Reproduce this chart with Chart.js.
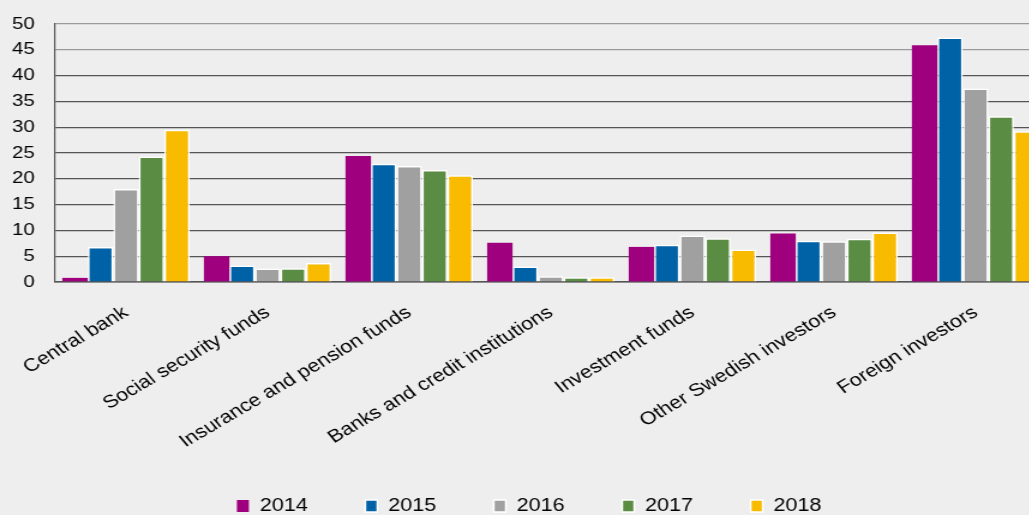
<!DOCTYPE html>
<html>
<head>
<meta charset="utf-8">
<script src="https://cdn.jsdelivr.net/npm/chart.js@4"></script>
<style>
  html, body { margin: 0; padding: 0; background: #eeeeee; overflow: hidden; }
  /* the reference is stretched sideways, so draw narrow and widen with CSS */
  #wrap { width: 872px; height: 525px; transform: scaleX(1.2); transform-origin: 0 0; }
</style>
</head>
<body>
<div id="wrap"><canvas id="chart"></canvas></div>
<script>
// ── Data ───────────────────────────────────────────
const categories = [
  'Central bank',
  'Social security funds',
  'Insurance and pension funds',
  'Banks and credit institutions',
  'Investment funds',
  'Other Swedish investors',
  'Foreign investors',
];
const years = ['2014', '2015', '2016', '2017', '2018'];
const v2014 = [0.8, 5.0, 24.4, 7.6, 6.8, 9.4, 45.9];
const v2015 = [6.8, 3.2, 22.9, 3.0, 7.2, 8.0, 47.4];
const v2016 = [18.0, 2.6, 22.5, 1.1, 9.0, 7.9, 37.5];
const v2017 = [24.3, 2.65, 21.7, 0.9, 8.5, 8.4, 32.1];
const v2018 = [29.5, 3.7, 20.7, 0.9, 6.3, 9.6, 29.2];
const yTicks = [0, 5, 10, 15, 20, 25, 30, 35, 40, 45, 50];

// ── Styling ────────────────────────────────────────
const colors = ['#9e007e', '#0062a6', '#a0a0a0', '#5a8c43', '#f9bb00'];
const seriesValues = [v2014, v2015, v2016, v2017, v2018];
const FONT = "'Liberation Sans', Arial, Helvetica, sans-serif";

const datasets = years.map((year, i) => ({
  label: year,
  data: seriesValues[i],
  backgroundColor: colors[i],
  borderColor: i === 0 ? colors[0] : '#ffffff',
  borderWidth: i === 0 ? 0 : 1.5,
  categoryPercentage: 0.9,
  barPercentage: 1.0,
}));

new Chart(document.getElementById('chart'), {
  type: 'bar',
  data: { labels: categories, datasets },
  options: {
    responsive: true,
    maintainAspectRatio: false,
    animation: false,
    layout: { padding: { left: 10, right: 0, top: 24, bottom: 0 } },
    plugins: {
      tooltip: { enabled: false },
      legend: {
        position: 'bottom',
        labels: {
          color: '#000000',
          font: { size: 18, family: FONT },
          boxWidth: 10,
          boxHeight: 12,
          padding: 48,
        },
      },
    },
    scales: {
      x: {
        grid: { display: false },
        border: { display: true, color: '#555555', width: 1.5 },
        ticks: {
          color: '#000000',
          font: { size: 18, family: FONT },
          minRotation: 35,
          maxRotation: 35,
          padding: 12,
        },
        // rotated labels may hang left of the axis, as in the reference
        afterFit: scale => {
          scale.paddingLeft = 0;
          scale.paddingRight = 0;
          scale.height = 167;
        },
      },
      y: {
        min: 0,
        max: 50,
        afterBuildTicks: axis => { axis.ticks = yTicks.map(v => ({ value: v })); },
        afterFit: scale => {
          scale.width = 36;
          scale.paddingTop = 0;
          scale.paddingBottom = 0;
        },
        grid: {
          color: ctx => (ctx.tick && ctx.tick.value >= 45 ? '#9a9a9a' : '#555555'),
          lineWidth: 1.2,
          drawTicks: false,
        },
        border: { display: true, color: '#555555', width: 1.2 },
        ticks: {
          autoSkip: false,
          color: '#000000',
          font: { size: 17, family: FONT },
          padding: 17,
        },
      },
    },
  },
});
</script>
</body>
</html>
